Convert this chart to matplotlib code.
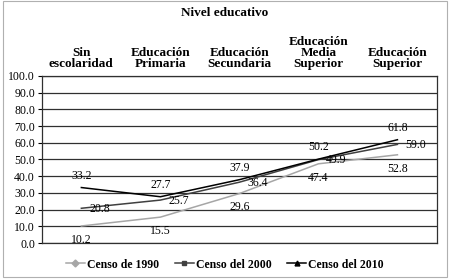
import matplotlib.pyplot as plt
from matplotlib.lines import Line2D
from matplotlib.patches import Rectangle

categories = ['Sin\nescolaridad', 'Educación\nPrimaria', 'Educación\nSecundaria',
              'Educación\nMedia\nSuperior', 'Educación\nSuperior']
series_names = ['Censo de 1990', 'Censo del 2000', 'Censo del 2010']
censo_1990 = [10.2, 15.5, 29.6, 47.4, 52.8]
censo_2000 = [20.8, 25.7, 36.4, 49.9, 59.0]
censo_2010 = [33.2, 27.7, 37.9, 50.2, 61.8]

plt.rcParams['font.family'] = ['Liberation Serif', 'DejaVu Serif']

fig = plt.figure(figsize=(4.5, 2.8), dpi=100)
ax = fig.add_axes([0.093, 0.132, 0.878, 0.597])

x = range(len(categories))
colors = ['#a6a6a6', '#404040', '#000000']
markers = ['D', 's', '^']
data = [censo_1990, censo_2000, censo_2010]
# label offsets in points: (dx, dy)
offsets = [(0, -10), (13, -0.5), (0, 8.5)]

for vals, c, (dx, dy) in zip(data, colors, offsets):
    ax.plot(x, vals, color=c, lw=1.1, zorder=3)
    for xi, v in zip(x, vals):
        ax.annotate(f'{v:.1f}', (xi, v), xytext=(dx, dy), textcoords='offset points',
                    ha='center', va='center', fontsize=8.5, zorder=4)

ax.set_xlim(-0.5, 4.5)
ax.set_ylim(0, 100)
ax.set_yticks(range(0, 101, 10))
ax.set_yticklabels([f'{t:.1f}' for t in range(0, 101, 10)], fontsize=8.5)
ax.set_xticks([])
ax.tick_params(axis='y', length=3, width=0.8, pad=2)
ax.grid(axis='y', color='#303030', lw=0.9)
ax.set_axisbelow(True)
for s in ax.spines.values():
    s.set_color('#303030')
    s.set_linewidth(0.9)

fig.text(0.5, 0.953, 'Nivel educativo', ha='center', va='center',
         fontsize=9.5, fontweight='bold')
for i, cat in enumerate(categories):
    xf = 0.093 + 0.878 * (i + 0.5) / 5
    fig.text(xf, 0.75, cat, ha='center', va='bottom', fontsize=9.5,
             fontweight='bold', linespacing=0.88)

handles = [Line2D([0], [0], color=c, marker=m, markersize=3.5, lw=1.1)
           for c, m in zip(colors, markers)]
fig.legend(handles, series_names, loc='center', bbox_to_anchor=(0.5, 0.055),
           ncol=3, frameon=False, prop={'weight': 'bold', 'size': 8.5},
           handlelength=1.6, handletextpad=0.2, columnspacing=1.3)

fig.patches.append(Rectangle((0.006, 0.01), 0.988, 0.985, transform=fig.transFigure,
                             fill=False, edgecolor='#b0b0b0', lw=0.8))

fig.savefig('out.png', dpi=100)
